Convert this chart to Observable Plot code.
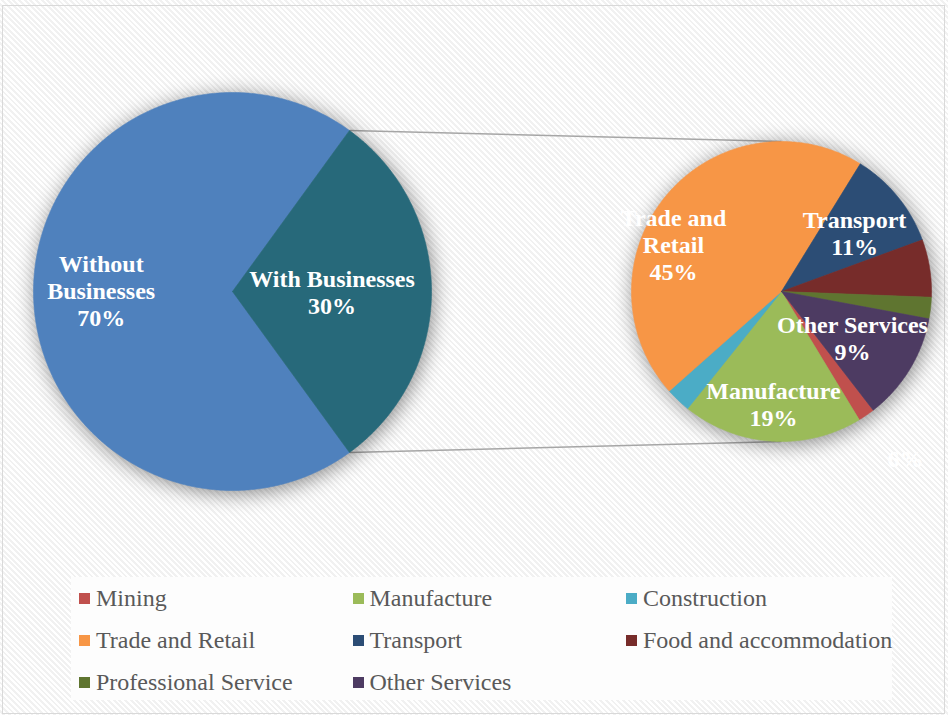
<!DOCTYPE html>
<html><head><meta charset="utf-8">
<script src="https://cdn.jsdelivr.net/npm/d3@7"></script>
<script src="https://cdn.jsdelivr.net/npm/@observablehq/plot@0.6"></script>
<style>
html,body{margin:0;padding:0;background:#fff;}
#wrap{position:relative;width:948px;height:715px;overflow:hidden;
 background:repeating-linear-gradient(45deg,#ffffff 0px,#ffffff 2px,#f1f1f1 2px,#f1f1f1 4px);}
#frame{position:absolute;left:2px;top:5px;width:943px;height:709px;border:1px solid #d9d9d9;box-sizing:border-box;}
#chart{position:absolute;left:0;top:0;}
#chart svg{background:transparent;overflow:visible;}
#chart g[aria-label="line"]{filter:drop-shadow(2px 3px 10px rgba(0,0,0,0.45));}
#legend{position:absolute;left:71px;top:577px;width:821px;height:123px;background:#fdfdfd;overflow:visible;}
#legend, #legend *{font-family:"Liberation Serif","Times New Roman",serif !important;}
#legend .lg-swatches{margin:0 !important;font-size:24px !important;color:#595959 !important;}
#legend .lg-swatches-wrap{display:flex;flex-wrap:wrap;min-height:0 !important;padding-left:8px;width:830px;box-sizing:border-box;}
#legend .lg-swatch{width:273.5px;height:42px;margin:0 !important;display:inline-flex;align-items:center;white-space:nowrap;font-size:24px !important;color:#595959 !important;}
#legend .lg-swatch svg{margin-right:6px !important;}
</style>
</head><body>
<div id="wrap"><div id="frame"></div><div id="chart"></div><div id="legend"></div></div>
<script>
// ---- data ----
const leftCategories = ["Without Businesses", "With Businesses"];
const leftValues = [70, 30];
const leftColors = ["#4F81BD", "#27697A"];
const leftLabels = ["Without\nBusinesses\n70%", "With Businesses\n30%"];

const rightCategories = ["Mining", "Manufacture", "Construction", "Trade and Retail",
  "Transport", "Food and accommodation", "Professional Service", "Other Services"];
const rightValues = [1.8, 19.4, 2.7, 45.3, 10.6, 6.2, 2.3, 11.6];
const rightColors = ["#C0504D", "#9BBB59", "#4BACC6", "#F79646",
  "#2C4D75", "#772C2A", "#5F7530", "#4D3B62"];
const rightLabels = ["", "Manufacture\n19%", "", "Trade and\nRetail\n45%",
  "Transport\n11%", "6%", "", "Other Services\n9%"];

// ---- layout (pixels / degrees clockwise from 12 o'clock) ----
const LG = {cx: 232, cy: 291, r: 199};
const RG = {cx: 781, cy: 291, r: 150, start: 142.3};
// label placement: [angle, radius fraction]
const leftLabelPos = [[270.4, 0.66], [90, 0.50]];
const rightLabelPos = [null, [184.1, 0.749], null, [293.5, 0.785], [51.1, 0.626], [143.4, 1.387], null, [122.9, 0.564]];

const rad = a => a * Math.PI / 180;
const px = (g, a, f) => g.cx + g.r * f * Math.sin(rad(a));
const py = (g, a, f) => g.cy - g.r * f * Math.cos(rad(a));

function slicePoints(cats, vals, g, start) {
  const total = d3.sum(vals);
  let a = start;
  const pts = [];
  cats.forEach((c, i) => {
    const span = vals[i] / total * 360;
    const n = Math.max(2, Math.ceil(span / 0.5));
    pts.push({key: c, x: g.cx, y: g.cy});
    for (let k = 0; k <= n; k++) {
      const t = a + span * k / n;
      pts.push({key: c, x: px(g, t, 1), y: py(g, t, 1)});
    }
    pts.push({key: c, x: g.cx, y: g.cy});
    a += span;
  });
  return pts;
}

const withSpan = leftValues[1] / d3.sum(leftValues) * 360;
const leftStart = 90 + withSpan / 2;
const leftPts = slicePoints(leftCategories, leftValues, LG, leftStart);
const rightPts = slicePoints(rightCategories, rightValues, RG, RG.start);

const connectors = [
  {x1: px(LG, 90 - withSpan / 2, 1), y1: py(LG, 90 - withSpan / 2, 1), x2: px(RG, 0, 1), y2: py(RG, 0, 1)},
  {x1: px(LG, 90 + withSpan / 2, 1), y1: py(LG, 90 + withSpan / 2, 1), x2: px(RG, 180, 1), y2: py(RG, 180, 1)}
];

const labels = [];
leftLabels.forEach((t, i) => { const p = leftLabelPos[i]; if (t && p) labels.push({text: t, x: px(LG, p[0], p[1]), y: py(LG, p[0], p[1])}); });
rightLabels.forEach((t, i) => { const p = rightLabelPos[i]; if (t && p) labels.push({text: t, x: px(RG, p[0], p[1]), y: py(RG, p[0], p[1])}); });

const chart = Plot.plot({
  width: 948, height: 715, margin: 0,
  x: {domain: [0, 948], range: [0, 948], axis: null},
  y: {domain: [0, 715], range: [0, 715], axis: null},
  color: {domain: [...leftCategories, ...rightCategories], range: [...leftColors, ...rightColors]},
  style: {background: "transparent"},
  marks: [
    Plot.link(connectors, {x1: "x1", y1: "y1", x2: "x2", y2: "y2", stroke: "#A6A6A6", strokeWidth: 1.5}),
    Plot.line(leftPts, {x: "x", y: "y", z: "key", fill: "key", stroke: "key", strokeWidth: 0.6}),
    Plot.line(rightPts, {x: "x", y: "y", z: "key", fill: "key", stroke: "key", strokeWidth: 0.6}),
    Plot.text(labels, {x: "x", y: "y", text: "text", fill: "white", fontSize: 24, fontWeight: "bold",
      fontFamily: "Liberation Serif", lineHeight: 1.13, textAnchor: "middle"})
  ]
});
document.getElementById("chart").appendChild(chart);

const legend = Plot.legend({
  color: {type: "ordinal", domain: rightCategories, range: rightColors},
  className: "lg", swatchSize: 11
});
document.getElementById("legend").appendChild(legend);
</script>
</body></html>
